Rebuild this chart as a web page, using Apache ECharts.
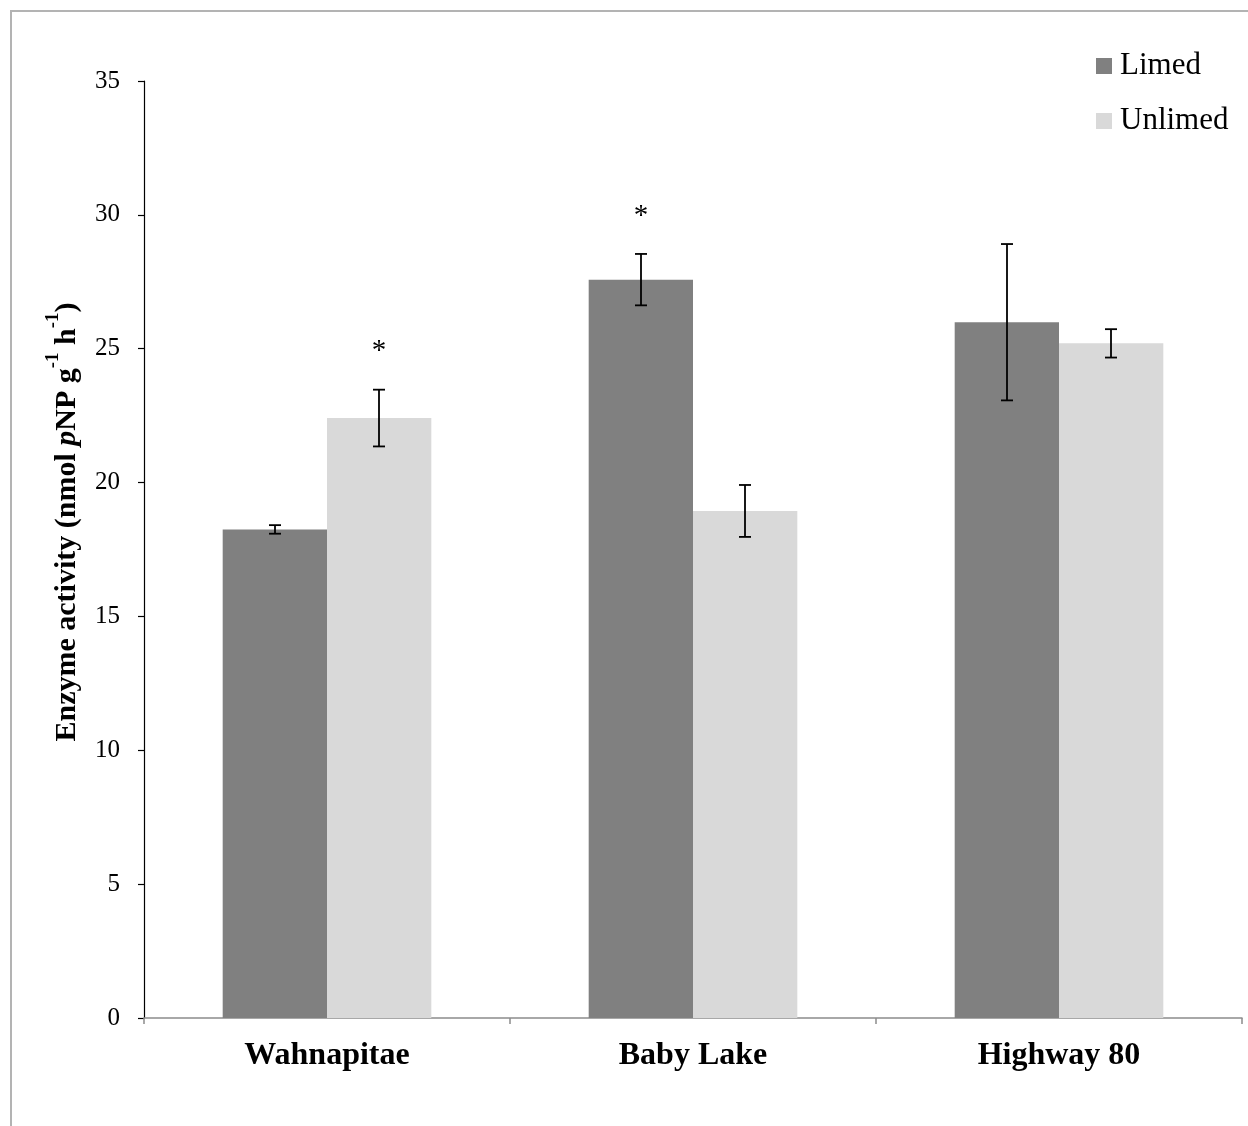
<!DOCTYPE html>
<html>
<head>
<meta charset="utf-8">
<script src="https://cdn.jsdelivr.net/npm/echarts@6/dist/echarts.min.js"></script>
<style>
  html, body { margin: 0; padding: 0; background: #ffffff; }
  #chart { width: 1248px; height: 1126px; }
</style>
</head>
<body>
<div id="chart"></div>
<script>
// Enzyme activity by site, limed vs unlimed (mean ± SE)
const categories = ['Wahnapitae', 'Baby Lake', 'Highway 80'];
const limed = [18.25, 27.58, 25.99];
const limedErr = [0.16, 0.96, 2.92];
const unlimed = [22.41, 18.94, 25.20];
const unlimedErr = [1.06, 0.97, 0.53];
// significance markers drawn above the error bars
const limedSig = ['', '*', ''];
const unlimedSig = ['*', '', ''];
const yTicks = [0, 5, 10, 15, 20, 25, 30, 35];

const FONT = '"Liberation Serif", "Times New Roman", serif';
const CAT_GAP = 0.43;

function errorSeries(name, values, errs, sigs, side) {
  return {
    name: name + ' error',
    type: 'custom',
    z: 10,
    silent: true,
    data: values.map((v, i) => [i, v, errs[i]]),
    renderItem: function (params, api) {
      const idx = api.value(0);
      const val = api.value(1);
      const err = api.value(2);
      const band = api.size([1, 0])[0];
      const barW = band * (1 - CAT_GAP) / 2;
      const center = api.coord([idx, val]);
      const x = Math.round(center[0] + side * barW / 2);
      const top = api.coord([idx, val + err])[1];
      const bot = api.coord([idx, val - err])[1];
      const cap = 6;
      const style = { stroke: '#000000', lineWidth: 1.8 };
      const children = [
        { type: 'line', shape: { x1: x, y1: top, x2: x, y2: bot }, style: style },
        { type: 'line', shape: { x1: x - cap, y1: top, x2: x + cap, y2: top }, style: style },
        { type: 'line', shape: { x1: x - cap, y1: bot, x2: x + cap, y2: bot }, style: style }
      ];
      const sig = sigs[params.dataIndex];
      if (sig) {
        children.push({
          type: 'text',
          style: {
            text: sig,
            x: x,
            y: top - 38,
            align: 'center',
            verticalAlign: 'middle',
            font: '29px ' + FONT,
            fill: '#000000'
          }
        });
      }
      return { type: 'group', children: children };
    }
  };
}

const chart = echarts.init(document.getElementById('chart'), null, { renderer: 'canvas' });

chart.setOption({
  animation: false,
  backgroundColor: '#ffffff',
  textStyle: { fontFamily: FONT },
  graphic: [
    {
      type: 'rect',
      shape: { x: 11, y: 11, width: 1400, height: 1400 },
      style: { fill: 'none', stroke: '#b3b3b3', lineWidth: 2 },
      silent: true,
      z: -1
    },
    {
      // y-axis title with italic p and superscript exponents
      type: 'text',
      x: 63,
      y: 522,
      rotation: Math.PI / 2,
      silent: true,
      style: {
        text: '{b|Enzyme activity (nmol }{bi|p}{b|NP g}{s|-1}{b| h}{s|-1}{b|)}',
        align: 'center',
        verticalAlign: 'middle',
        rich: {
          b: { fontFamily: FONT, fontSize: 30, fontWeight: 'bold', fill: '#000000', lineHeight: 38, verticalAlign: 'bottom' },
          bi: { fontFamily: FONT, fontSize: 30, fontWeight: 'bold', fontStyle: 'italic', fill: '#000000', lineHeight: 38, verticalAlign: 'bottom' },
          s: { fontFamily: FONT, fontSize: 19, fontWeight: 'bold', fill: '#000000', lineHeight: 38, verticalAlign: 'top' }
        }
      }
    }
  ],
  legend: {
    orient: 'vertical',
    left: 1096,
    top: 50,
    padding: 0,
    itemWidth: 16,
    itemHeight: 16,
    itemGap: 23,
    icon: 'rect',
    data: ['Limed', 'Unlimed'],
    textStyle: { fontFamily: FONT, fontSize: 31, color: '#000000', lineHeight: 32, padding: [0, 0, 0, 3] }
  },
  grid: { left: 144, right: 6, top: 81, bottom: 108, containLabel: false },
  xAxis: {
    type: 'category',
    data: categories,
    axisLine: { lineStyle: { color: '#8c8c8c', width: 1.5 } },
    axisTick: { show: true, length: 6, lineStyle: { color: '#8c8c8c', width: 1.5 } },
    axisLabel: { fontFamily: FONT, fontSize: 32, fontWeight: 'bold', color: '#000000', margin: 22 },
    splitLine: { show: false }
  },
  yAxis: {
    type: 'value',
    min: yTicks[0],
    max: yTicks[yTicks.length - 1],
    interval: yTicks[1] - yTicks[0],
    axisLine: { show: true, lineStyle: { color: '#000000', width: 1.2 } },
    axisTick: { show: true, inside: false, length: 6, lineStyle: { color: '#000000', width: 1.2 } },
    axisLabel: { fontFamily: FONT, fontSize: 25, color: '#000000', margin: 24 },
    splitLine: { show: false }
  },
  series: [
    {
      name: 'Limed',
      type: 'bar',
      data: limed,
      barGap: '0%',
      barCategoryGap: (CAT_GAP * 100) + '%',
      itemStyle: { color: '#808080' }
    },
    {
      name: 'Unlimed',
      type: 'bar',
      data: unlimed,
      barGap: '0%',
      barCategoryGap: (CAT_GAP * 100) + '%',
      itemStyle: { color: '#d9d9d9' }
    },
    errorSeries('Limed', limed, limedErr, limedSig, -1),
    errorSeries('Unlimed', unlimed, unlimedErr, unlimedSig, 1)
  ]
});
</script>
</body>
</html>
